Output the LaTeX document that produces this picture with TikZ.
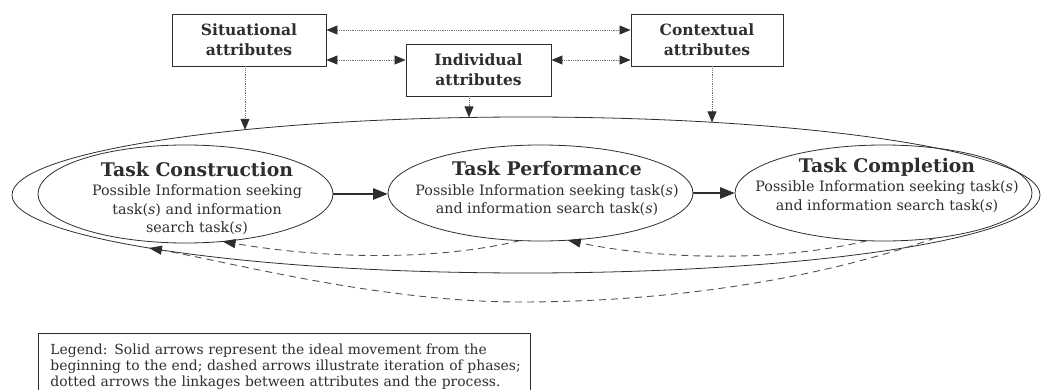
\documentclass[tikz,border=0pt]{standalone}
\usepackage{fontspec}
\setmainfont{DejaVu Serif}
\usetikzlibrary{arrows.meta,shapes.geometric,calc}
\definecolor{ink}{HTML}{2E2E2E}
\definecolor{dotgray}{HTML}{707070}
\definecolor{dashgray}{HTML}{505050}
\newcommand{\phasehead}[1]{\textbf{\fontsize{18.8}{20}\selectfont #1}}
\tikzset{dottip/.tip={Triangle[length=11pt,width=9pt,color=ink]}}
\begin{document}
\begin{tikzpicture}[x=1pt,y=-1pt,
  attrbox/.style={draw=ink, line width=0.9pt, minimum height=52pt, inner sep=0pt,
    align=center, text=ink, font=\fontsize{15.5}{20}\selectfont\bfseries},
  phase/.style={ellipse, draw=ink, line width=0.8pt, inner sep=0pt, outer sep=0pt},
  phasetext/.style={align=center, inner sep=0pt, text=ink, anchor=base,
    font=\fontsize{14.3}{18}\selectfont},
  link/.style={draw=dotgray, densely dotted, line width=0.8pt},
  linkboth/.style={link, dottip-dottip},
  linkdown/.style={link, -dottip},
  flow/.style={draw=ink, line width=2.8pt, -{Triangle[length=15pt,width=11pt]}},
  iterate/.style={draw=dashgray, line width=0.9pt, dash pattern=on 7pt off 5pt,
    -{Triangle[length=13pt,width=9pt,color=ink]}},
  legendbox/.style={draw=ink, line width=0.8pt, anchor=north west, align=left,
    text width=468pt, inner xsep=12pt, inner ysep=8pt, minimum height=66pt,
    text=ink, font=\fontsize{13.9}{16}\selectfont}]
\useasboundingbox (0,0) rectangle (1043,390);

% attribute boxes
\node[attrbox, minimum width=154pt] (sa) at (249,40) {Situational\\attributes};
\node[attrbox, minimum width=145pt] (ia) at (478.5,70) {Individual\\attributes};
\node[attrbox, minimum width=152pt] (ca) at (707,40) {Contextual\\attributes};

% the enclosing process loop
\node[phase, minimum width=1028pt, minimum height=156pt] (loop) at (526,195) {};

% the three phases
\node[phase, minimum width=295pt, minimum height=98pt] (tc) at (185.5,194) {};
\node[phase, minimum width=305pt, minimum height=96pt] (tp) at (540.5,193) {};
\node[phase, minimum width=297pt, minimum height=96pt] (tcm) at (883.5,193) {};

% phase labels (anchored at the baseline of their last line)
\node[phasetext] (tctext) at (197,232) {\phasehead{Task Construction}\\[2pt]
  Possible Information seeking\\ task(\textit{s}) and information\\ search task(\textit{s})};
\node[phasetext] (tptext) at (547,213) {\phasehead{Task Performance}\\[2pt]
  Possible Information seeking task(\textit{s})\\ and information search task(\textit{s})};
\node[phasetext] (tcmtext) at (887,210) {\phasehead{Task Completion}\\[2pt]
  Possible Information seeking task(\textit{s})\\ and information search task(\textit{s})};

% dotted linkages between attributes
\draw[linkboth] ([yshift=10pt]sa.east) -- ([yshift=10pt]ca.west);
\draw[linkboth] ([yshift=-20pt]sa.east) -- ([yshift=10pt]ia.west);
\draw[linkboth] ([yshift=10pt]ia.east) -- ([yshift=-20pt]ca.west);

% dotted linkages from attributes to the process
\draw[linkdown] ([xshift=-4pt]sa.south) -- ([xshift=-4pt]sa.south |- loop.167);
\draw[linkdown] ([xshift=-9.5pt]ia.south) -- ([xshift=-9.5pt]ia.south |- loop.126);
\draw[linkdown] ([xshift=5pt]ca.south) -- ([xshift=5pt]ca.south |- loop.21);

% ideal movement
\draw[flow] (tc.east) -- (tc.east -| tp.west);
\draw[flow] (tp.east) -- (tp.east -| tcm.west);

% iteration of phases
\draw[iterate] (tp.-113) .. controls (430,262) and (320,258) .. (tc.-52);
\draw[iterate] (tcm.-109) .. controls (780,262) and (660,260) .. (tp.-60);
\draw[iterate] (tcm.-41) .. controls (800,285) and (650,302) .. (520,302)
  .. controls (380,302) and (230,262) .. (loop.-172);

% legend
\node[legendbox] (legend) at (38,333) {%
  \mbox{Legend: Solid arrows represent the ideal movement from the}\\
  \mbox{beginning to the end; dashed arrows illustrate iteration of phases;}\\
  \mbox{dotted arrows the linkages between attributes and the process.}};
\end{tikzpicture}
\end{document}
